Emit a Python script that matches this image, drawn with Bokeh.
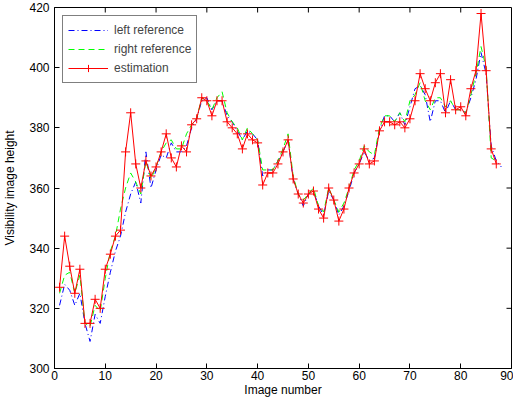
import math
from bokeh.plotting import figure
from bokeh.models import FixedTicker, Range1d
from bokeh.embed import file_html
from bokeh.resources import INLINE

estimation = [327, 344, 334, 325, 333, 315, 315, 323, 320, 333, 338, 344, 346, 372, 385, 368, 360, 369, 364, 367,
              372, 378, 370, 367, 374, 372, 381, 383, 390, 389, 384, 389, 389, 382, 380, 378, 373, 378, 376, 375,
              361, 365, 365, 368, 372, 376, 363, 358, 355, 358, 359, 353, 350, 360, 356, 349, 353, 360, 365, 368,
              373, 368, 369, 379, 382, 382, 381, 382, 380, 383, 389, 398, 393, 389, 395, 398, 385, 396, 386, 387,
              384, 393, 399, 418, 399, 373, 368]
left_ref = [321, 328, 326, 321, 325, 315, 309, 318, 315, 324, 332, 339, 344, 352, 358, 362, 355, 372, 360, 366,
            371, 370, 375, 372, 372, 374, 380, 383, 389, 390, 386, 389, 389, 384, 382, 379, 376, 379, 378, 376,
            364, 366, 366, 369, 372, 376, 363, 358, 354, 358, 359, 354, 351, 359, 356, 351, 354, 359, 365, 368,
            372, 369, 370, 379, 384, 384, 382, 385, 381, 387, 393, 394, 391, 382, 389, 389, 385, 389, 386, 386,
            385, 390, 396, 405, 398, 374, 369, 367]
right_ref = [325, 331, 332, 325, 331, 315, 314, 321, 319, 330, 339, 344, 353, 360, 365, 362, 358, 369, 363, 367,
             372, 375, 376, 373, 373, 378, 381, 383, 390, 389, 386, 390, 392, 385, 382, 380, 376, 380, 378, 376,
             366, 366, 366, 369, 373, 378, 364, 358, 356, 358, 360, 354, 352, 360, 356, 352, 355, 360, 366, 369,
             374, 372, 371, 380, 384, 384, 382, 385, 382, 389, 391, 395, 389, 386, 390, 390, 387, 389, 386, 386,
             385, 391, 398, 407, 400, 370, 369]
x_ticks = [0, 10, 20, 30, 40, 50, 60, 70, 80, 90]
y_ticks = [300, 320, 340, 360, 380, 400, 420]
x_min, x_max = 0, 90
y_min, y_max = 300, 420

x_left = list(range(1, len(left_ref) + 1))
x_right = list(range(1, len(right_ref) + 1))
x_est = list(range(1, len(estimation) + 1))

FONT = "Liberation Sans"

p = figure(width=513, height=399, output_backend="svg", toolbar_location=None,
           x_range=Range1d(x_min, x_max), y_range=Range1d(y_min, y_max),
           x_axis_label="Image number", y_axis_label="Visibility image height")
p.min_border_top = 7
p.min_border_right = 2
p.min_border_left = 54
p.min_border_bottom = 20
p.xgrid.visible = False
p.ygrid.visible = False
p.outline_line_color = "black"
p.outline_line_width = 1
p.background_fill_color = "white"
p.border_fill_color = "white"

p.line(x_left, left_ref, line_color="#0000ff", line_dash="6 3 1 3", line_width=1,
       legend_label="left reference")
p.line(x_right, right_ref, line_color="#00ff00", line_dash="6 4", line_width=1,
       legend_label="right reference")
p.line(x_est, estimation, line_color="#ff0000", line_width=1, legend_label="estimation")
p.scatter(x_est, estimation, marker="cross", size=9, line_color="#ff0000", line_width=1,
          legend_label="estimation")

# MATLAB-style box ticks on the top and right edges (half of each dash is clipped by the frame)
p.scatter(x_ticks[1:-1], [y_max] * (len(x_ticks) - 2), marker="dash", angle=math.pi / 2,
          size=10, line_color="black", line_width=1)
p.scatter([x_max] * (len(y_ticks) - 2), y_ticks[1:-1], marker="dash",
          size=10, line_color="black", line_width=1)

for ax in p.xaxis:
    ax.ticker = FixedTicker(ticks=x_ticks)
for ax in p.yaxis:
    ax.ticker = FixedTicker(ticks=y_ticks)

for ax in list(p.xaxis) + list(p.yaxis):
    ax.major_tick_in = 5
    ax.major_tick_out = 0
    ax.minor_tick_in = 0
    ax.minor_tick_out = 0
    ax.axis_line_color = "black"
    ax.major_tick_line_color = "black"
    ax.major_label_text_font = FONT
    ax.major_label_text_font_size = "12px"
    ax.major_label_text_color = "black"
    ax.axis_label_text_font = FONT
    ax.axis_label_text_font_size = "12px"
    ax.axis_label_text_font_style = "normal"
    ax.axis_label_text_color = "black"

p.xaxis.major_label_standoff = 2
p.xaxis.axis_label_standoff = 0
p.yaxis.major_label_standoff = 5
p.yaxis.axis_label_standoff = 9

lg = p.legend[0]
lg.location = "top_left"
lg.margin = 8
lg.padding = 5
lg.spacing = 1
lg.glyph_width = 40
lg.glyph_height = 18
lg.label_standoff = 6
lg.label_text_font = FONT
lg.label_text_font_size = "12px"
lg.label_height = 18
lg.border_line_color = "black"
lg.border_line_width = 1
lg.background_fill_color = "white"
lg.background_fill_alpha = 1.0

open("out.html", "w").write(file_html(p, INLINE))
